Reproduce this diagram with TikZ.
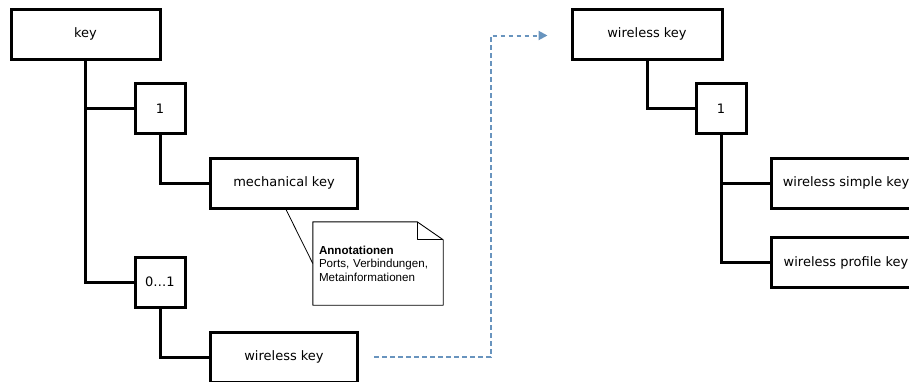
\documentclass[tikz,border=0pt]{standalone}
\usepackage{fontspec}
\setmainfont{DejaVu Sans}
\newfontfamily\notefont{Liberation Sans}
\usetikzlibrary{calc,arrows.meta}
\definecolor{dashblue}{RGB}{104,148,190}
\tikzset{
  box/.style={draw, line width=3pt, minimum width=149pt, minimum height=50pt, inner sep=0pt, font=\fontsize{13}{15}\selectfont},
  card/.style={draw, line width=3pt, minimum width=50pt, minimum height=50pt, inner sep=0pt, font=\fontsize{13}{15}\selectfont},
  conn/.style={line width=3pt},
  notelink/.style={line width=0.8pt},
  noteshape/.style={line width=0.9pt, line join=round},
  flow/.style={dashblue, line width=2pt, dash pattern=on 4.5pt off 3.5pt, -{Triangle[length=9pt,width=9pt]}}
}
\begin{document}
\begin{tikzpicture}[x=1pt,y=-1pt]
\useasboundingbox (0,0) rectangle (909,381);
\clip (0,0) rectangle (909,381);
% left tree
\node[box] (key) at (85.5,34) {key};
\node[card] (one1) at (160,108.5) {1};
\node[box, minimum width=147pt] (mech) at (284,183) {mechanical key};
\node[card] (zero) at (160,282) {0\ldots1};
\node[box, minimum width=147pt] (wkL) at (284,357) {wireless key};
% right tree
\node[box, minimum width=150pt] (wkR) at (647,34) {wireless key};
\node[card] (one2) at (721,108.5) {1};
\node[box, minimum width=150pt] (wsk) at (846,183) {wireless simple key};
\node[box, minimum width=150pt] (wpk) at (846,262.5) {wireless profile key};
% note
\node[minimum width=130pt, minimum height=83pt, text width=118pt, inner xsep=6pt, inner ysep=0pt, align=left, font=\notefont\fontsize{11.6}{13.6}\selectfont] (note) at (378,263.5) {\textbf{Annotationen}\\Ports, Verbindungen,\\Metainformationen};
\draw[noteshape] (note.north west) -- ($(note.north east)+(-26,0)$) -- ($(note.north east)+(0,18)$) -- (note.south east) -- (note.south west) -- cycle;
\draw[noteshape] ($(note.north east)+(-26,0)$) -- ($(note.north east)+(-26,18)$) -- ($(note.north east)+(0,18)$);
% connectors
\draw[conn] (key.south) |- (zero.west);
\draw[conn] (key.south |- one1.west) -- (one1.west);
\draw[conn] (one1.south) |- (mech.west);
\draw[conn] (zero.south) |- (wkL.west);
\draw[conn] (wkR.south) |- (one2.west);
\draw[conn] (one2.south) |- (wpk.west);
\draw[conn] (one2.south |- wsk.west) -- (wsk.west);
\draw[notelink] ([xshift=2pt]mech.south) -- (note.west);
% dashed flow
\coordinate (ds) at ([xshift=15pt]wkL.east);
\coordinate (dm) at (490.5,35.5);
\coordinate (de) at ([xshift=-23pt]wkR.west);
\draw[flow] (ds) -- (ds -| dm) -- (dm) -- (dm -| de);
\end{tikzpicture}
\end{document}
